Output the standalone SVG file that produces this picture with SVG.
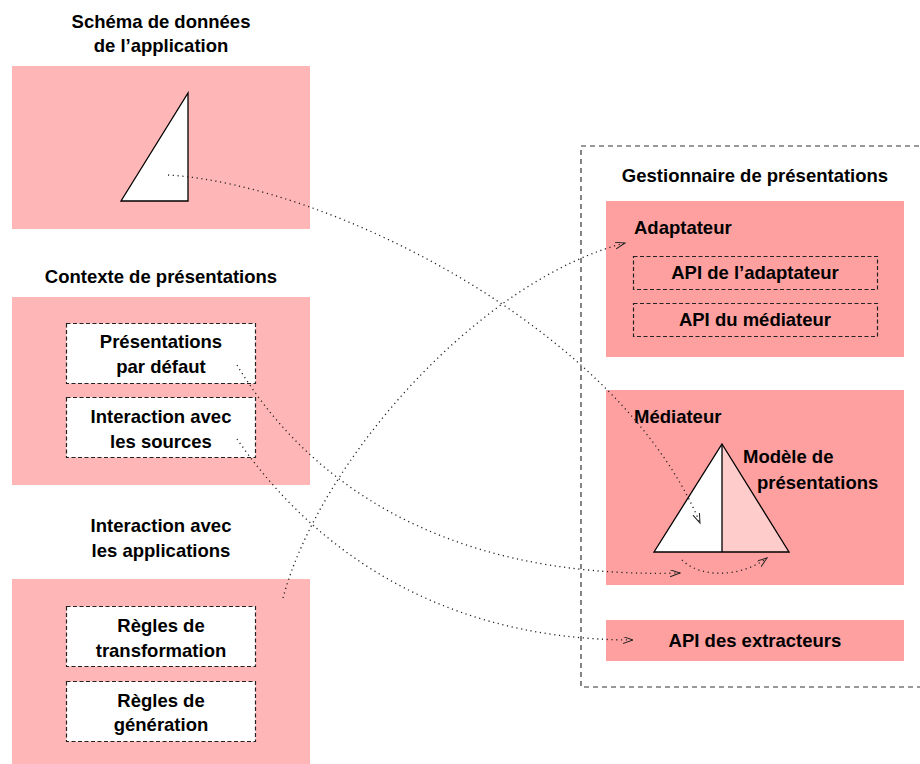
<svg xmlns="http://www.w3.org/2000/svg" width="920" height="764" viewBox="0 0 920 764">
<defs>
<style>
text{font-family:"Liberation Sans",Arial,sans-serif;font-weight:bold;font-size:18.5px;fill:#000}
.c{text-anchor:middle}
.lb{fill:#FFB6B6}
.db{fill:#FFA0A0}
.dash{fill:#fff;stroke:#222;stroke-width:1.2;stroke-dasharray:4 2.5}
.dashn{fill:none;stroke:#222;stroke-width:1.2;stroke-dasharray:4 2.5}
.cont{fill:none;stroke:#333;stroke-width:1.2;stroke-dasharray:5 4}
.tri{stroke:#000;stroke-width:1.3;stroke-linejoin:miter}
.con{fill:none;stroke:#222;stroke-width:1.3;stroke-dasharray:1.2 3.6;marker-end:url(#ah)}
</style>
<marker id="ah" markerWidth="12" markerHeight="10" refX="10" refY="3.5" orient="auto" markerUnits="userSpaceOnUse">
<path d="M0,0 L10,3.5 L0,7" fill="none" stroke="#222" stroke-width="1"/>
</marker>
</defs>

<g id="schema">
<text class="c" x="161" y="28">Schéma de données</text>
<text class="c" x="161" y="52">de l’application</text>
<rect class="lb" x="12" y="66" width="298" height="163"/>
<polygon class="tri" points="188,93 188,201 121,201" fill="#fff"/>
</g>

<g id="contexte">
<text class="c" x="161" y="283">Contexte de présentations</text>
<rect class="lb" x="12" y="297" width="298" height="188"/>
<g id="pres-defaut">
<rect class="dash" x="66.5" y="323.5" width="189" height="60"/>
<text class="c" x="161" y="348">Présentations</text>
<text class="c" x="161" y="373">par défaut</text>
</g>
<g id="inter-sources">
<rect class="dash" x="66.5" y="397.5" width="189" height="60"/>
<text class="c" x="161" y="423">Interaction avec</text>
<text class="c" x="161" y="448">les sources</text>
</g>
</g>

<g id="interaction-apps">
<text class="c" x="161" y="532">Interaction avec</text>
<text class="c" x="161" y="557">les applications</text>
<rect class="lb" x="12" y="579" width="298" height="186"/>
<g id="regles-transfo">
<rect class="dash" x="66.5" y="606.5" width="189" height="60"/>
<text class="c" x="161" y="632">Règles de</text>
<text class="c" x="161" y="657">transformation</text>
</g>
<g id="regles-gen">
<rect class="dash" x="66.5" y="681.5" width="189" height="60"/>
<text class="c" x="161" y="707">Règles de</text>
<text class="c" x="161" y="731">génération</text>
</g>
</g>

<g id="gestionnaire">
<rect class="cont" x="581" y="146" width="341" height="541"/>
<text class="c" x="755" y="182">Gestionnaire de présentations</text>
</g>

<g id="adaptateur">
<rect class="db" x="606" y="201" width="298" height="156"/>
<text x="634" y="234">Adaptateur</text>
<g id="api-adaptateur">
<rect class="dashn" x="633.5" y="256.5" width="244" height="33"/>
<text class="c" x="755" y="279">API de l’adaptateur</text>
</g>
<g id="api-mediateur">
<rect class="dashn" x="633.5" y="303.5" width="244" height="33"/>
<text class="c" x="755" y="326">API du médiateur</text>
</g>
</g>

<g id="mediateur">
<rect class="db" x="606" y="390" width="298" height="195"/>
<text x="634" y="423">Médiateur</text>
<g id="modele">
<polygon points="722,444 722,552 654,552" fill="#fff"/>
<polygon points="722,444 789,552 722,552" fill="#FFCCCC"/>
<polygon class="tri" points="722,444 789,552 654,552" fill="none"/>
<line x1="722" y1="444" x2="722" y2="552" stroke="#000" stroke-width="1.3"/>
<text x="743" y="463">Modèle de</text>
<text x="757" y="489">présentations</text>
</g>
</g>

<g id="api-extracteurs">
<rect class="db" x="606" y="620" width="298" height="41"/>
<text class="c" x="755" y="647">API des extracteurs</text>
</g>

<g id="connectors">
<path class="con" d="M168,175 C330,185 620,330 700,523"/>
<path class="con" d="M283,598 C320,460 480,280 625,243"/>
<path class="con" d="M237,365 C300,470 430,580 680,573"/>
<path class="con" d="M237,439 C300,530 420,640 633,640"/>
<path class="con" d="M682,560 C700,578 740,578 767,558"/>
</g>
</svg>
